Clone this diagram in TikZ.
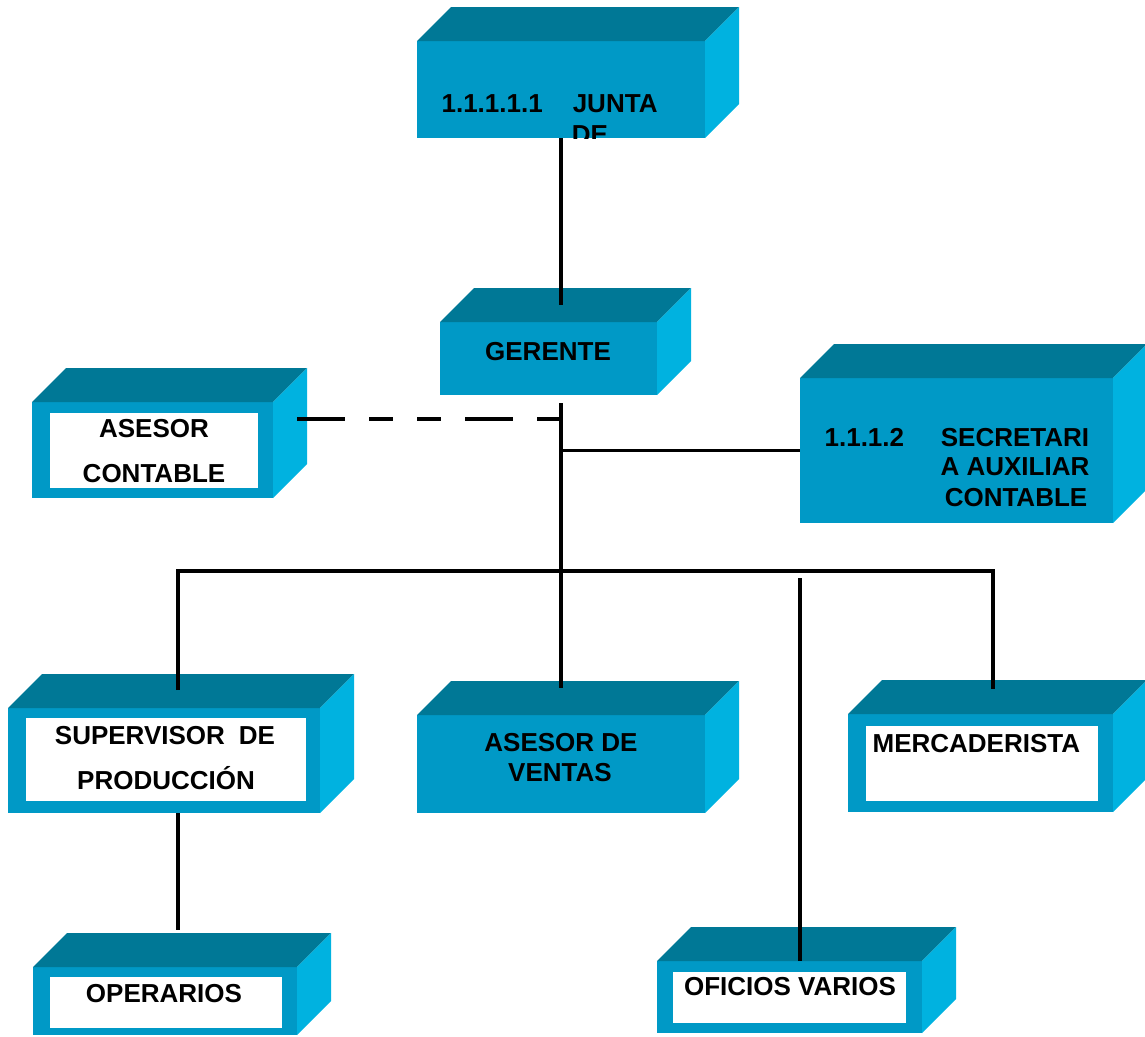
\documentclass[tikz,border=0pt]{standalone}
\usepackage{fontspec}
\setmainfont{Liberation Sans}
\usepackage{tikz}
\usetikzlibrary{calc, positioning}
\definecolor{boxtop}{RGB}{0,120,150}
\definecolor{boxfront}{RGB}{0,153,198}
\definecolor{boxside}{RGB}{0,178,224}
\newcommand{\cubedepth}{34}
% top and right faces of a box whose front is node #1
\newcommand{\cubefaces}[1]{%
  \fill[boxtop] (#1.north west) -- ++(\cubedepth,-\cubedepth)
     -- ($(#1.north east)+(\cubedepth,-\cubedepth)$) -- (#1.north east) -- cycle;
  \fill[boxside] (#1.north east) -- ++(\cubedepth,-\cubedepth)
     -- ($(#1.south east)+(\cubedepth,-\cubedepth)$) -- (#1.south east) -- cycle;}

\begin{document}
\begin{tikzpicture}[x=1pt, y=-1pt, line width=3.2pt,
   front/.style={fill=boxfront, inner sep=0pt, outer sep=0pt},
   card/.style={fill=white, inner sep=0pt, outer sep=0pt},
   lbl/.style={font=\fontsize{26}{30}\selectfont\bfseries, inner sep=0pt, anchor=base},
   dashline/.style={dash pattern=on 48pt off 24pt on 24pt off 24pt on 24pt off 24pt}]
  \useasboundingbox (0,0) rectangle (1145,1036);
  % junta
  \node[front, minimum width=288pt, minimum height=97pt] (junta) at (561,89.5) {};
  \cubefaces{junta}
  \node[lbl, anchor=base west] (juntaA) at (440,112) {1.1.1.1.1\hspace{30pt}JUNTA};
  \begin{scope}
    \clip (junta.south west) rectangle (junta.north east);
    \node[lbl] (juntaB) at (590,143) {DE};
  \end{scope}
  % gerente
  \node[front, minimum width=217pt, minimum height=73pt] (ger) at (548.5,358.5) {};
  \cubefaces{ger}
  \node[lbl] (gerA) at (548,360) {GERENTE};
  % asesor contable
  \node[front, minimum width=241pt, minimum height=96pt] (acon) at (152.5,450) {};
  \cubefaces{acon}
  \node[card, minimum width=208pt, minimum height=75pt] (aconcard) at (154,450.5) {};
  \node[lbl] (aconA) at (154,437) {ASESOR};
  \node[lbl] (aconB) at (154,482) {CONTABLE};
  % secretaria
  \node[front, minimum width=313pt, minimum height=145pt] (sec) at (956.5,450.5) {};
  \cubefaces{sec}
  \node[lbl, anchor=base west] (secA) at (823,446) {1.1.1.2};
  \node[lbl] (secB) at (1015,446) {SECRETARI};
  \node[lbl] (secC) at (1015,475) {A AUXILIAR};
  \node[lbl] (secD) at (1016,506) {CONTABLE};
  % supervisor
  \node[front, minimum width=312pt, minimum height=105pt] (sup) at (164,760.5) {};
  \cubefaces{sup}
  \node[card, minimum width=280pt, minimum height=83pt] (supcard) at (166,759.5) {};
  \node[lbl] (supA) at (165,744) {SUPERVISOR\hspace{14pt}DE};
  \node[lbl] (supB) at (166,789) {PRODUCCIÓN};
  % asesor de ventas
  \node[front, minimum width=288pt, minimum height=98pt] (adv) at (561,764) {};
  \cubefaces{adv}
  \node[lbl] (advA) at (561,751) {ASESOR DE};
  \node[lbl] (advB) at (560,781) {VENTAS};
  % mercaderista
  \node[front, minimum width=265pt, minimum height=98pt] (merc) at (980.5,763) {};
  \cubefaces{merc}
  \node[card, minimum width=232pt, minimum height=75pt] (merccard) at (982,763.5) {};
  \node[lbl, anchor=base west] (mercA) at (871,752) {MERCADERISTA};
  % operarios
  \node[front, minimum width=264pt, minimum height=68pt] (ope) at (165,1001) {};
  \cubefaces{ope}
  \node[card, minimum width=232pt, minimum height=51pt] (opecard) at (166,1002.5) {};
  \node[lbl] (opeA) at (164,1002) {OPERARIOS};
  % oficios varios
  \node[front, minimum width=265pt, minimum height=72pt] (ofi) at (789.5,997) {};
  \cubefaces{ofi}
  \node[card, minimum width=233pt, minimum height=51pt] (oficard) at (789.5,997.5) {};
  \node[lbl] (ofiA) at (790,995) {OFICIOS VARIOS};

  % connector ends
  \coordinate (gertop) at (561,305);
  \coordinate (hub) at (561,403);
  \coordinate (advtop) at (561,688);
  \coordinate (dashstart) at (297,419);
  \coordinate (suptop) at (178,690);
  \coordinate (merctop) at (993,689);
  \coordinate (bus) at (561,571);
  \coordinate (ofistart) at (800,578);
  \coordinate (opetop) at (178,930);

  \draw (junta.south) -- (gertop);
  \draw (hub) -- (advtop);
  \draw[dashline] (dashstart) -- (dashstart -| hub);
  \draw (sec.west -| hub) -- (sec.west);
  \draw (suptop) -- (suptop |- bus) -- (merctop |- bus) -- (merctop);
  \draw (ofistart) -- (ofistart |- ofi.north);
  \draw (suptop |- sup.south) -- (opetop);
\end{tikzpicture}
\end{document}
